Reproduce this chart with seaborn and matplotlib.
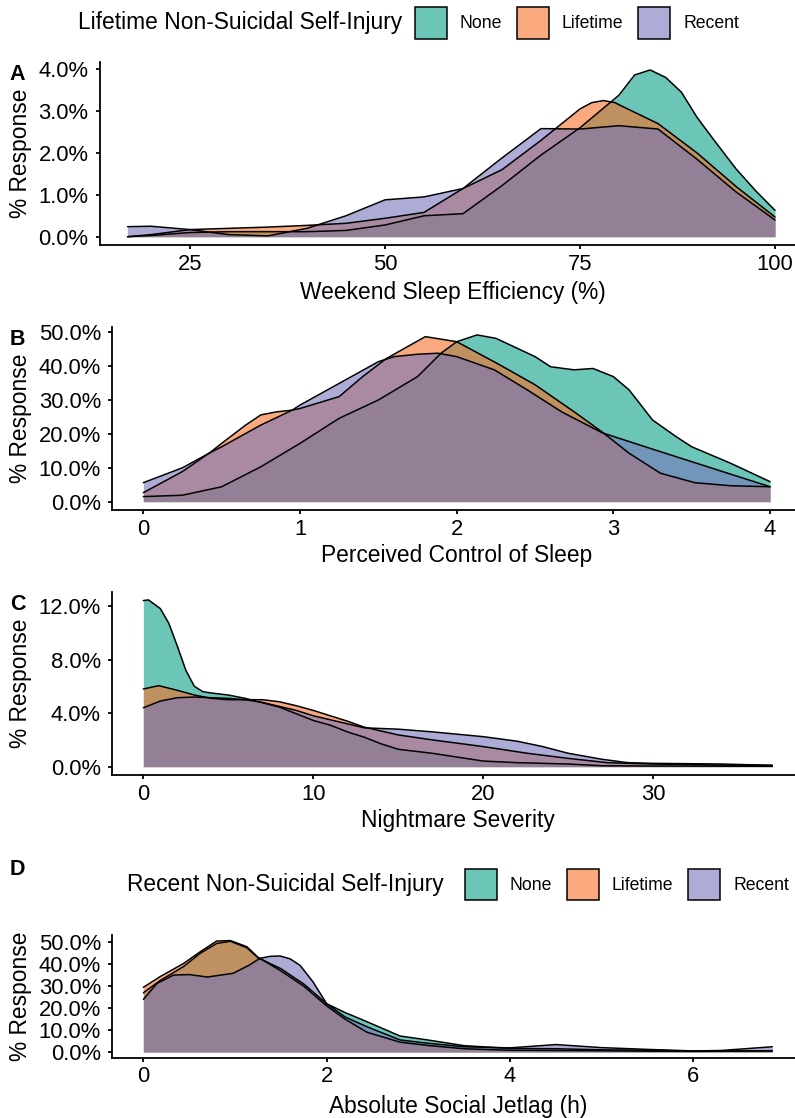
import seaborn as sns
import matplotlib.pyplot as plt
from matplotlib.colors import to_rgb
from matplotlib.patches import Patch
from matplotlib.ticker import PercentFormatter

# groups, drawn in this order (later fills cover earlier ones)
groups = ['None', 'Lifetime', 'Recent']

# ---- Panel A: Weekend Sleep Efficiency (%) ----
a_none_x = [17, 20, 25, 30, 35, 40, 45, 50, 55, 60, 65, 70, 75, 80, 82, 84, 86, 88, 90, 92, 95, 97.5, 100]
a_none = [0.0, 0.03, 0.1, 0.12, 0.12, 0.12, 0.15, 0.28, 0.5, 0.55, 1.22, 1.95, 2.6, 3.38, 3.86, 3.98, 3.8, 3.45, 2.85, 2.35, 1.62, 1.1, 0.63]
a_life_x = [17, 20, 25, 30, 35, 40, 45, 50, 55, 60, 65, 70, 72, 75, 76.5, 78, 79.5, 80, 85, 90, 95, 100]
a_life = [0.0, 0.05, 0.17, 0.2, 0.23, 0.27, 0.32, 0.44, 0.58, 1.15, 1.6, 2.3, 2.6, 3.05, 3.2, 3.25, 3.2, 3.15, 2.7, 2.0, 1.2, 0.47]
a_rec_x = [17, 20, 25, 30, 35, 40, 45, 50, 55, 60, 65, 70, 75, 80, 85, 90, 95, 100]
a_rec = [0.24, 0.25, 0.17, 0.05, 0.02, 0.2, 0.5, 0.88, 0.95, 1.15, 1.88, 2.58, 2.57, 2.65, 2.57, 1.85, 1.07, 0.4]

# ---- Panel B: Perceived Control of Sleep ----
b_none_x = [0, 0.25, 0.5, 0.75, 1.0, 1.25, 1.5, 1.75, 1.9, 2.0, 2.13, 2.25, 2.5, 2.6, 2.75, 2.87, 3.0, 3.1, 3.25, 3.4, 3.5, 3.75, 4.0]
b_none = [1.5, 1.9, 4.4, 10.3, 17.2, 24.6, 30.0, 36.9, 43.8, 47.2, 49.2, 48.2, 42.8, 39.8, 38.9, 39.3, 36.9, 33.0, 24.1, 19.2, 16.2, 11.3, 5.9]
b_life_x = [0, 0.25, 0.42, 0.5, 0.65, 0.75, 0.85, 0.95, 1.0, 1.25, 1.4, 1.55, 1.8, 2.0, 2.25, 2.5, 2.75, 2.93, 3.1, 3.3, 3.52, 3.75, 4.0]
b_life = [2.65, 8.9, 14.3, 17.2, 22.5, 25.6, 26.5, 27.0, 27.5, 31.0, 36.9, 42.2, 48.7, 47.2, 41.0, 34.5, 26.5, 20.5, 14.3, 8.4, 5.6, 4.7, 4.4]
b_rec_x = [0, 0.25, 0.42, 0.5, 0.75, 0.95, 1.0, 1.25, 1.5, 1.6, 1.75, 1.88, 2.0, 2.24, 2.45, 2.67, 2.93, 3.25, 3.5, 3.75, 4.0]
b_rec = [5.6, 10.0, 14.3, 16.2, 22.6, 27.0, 28.5, 34.9, 41.3, 42.8, 43.5, 43.8, 42.8, 38.9, 33.0, 26.5, 20.3, 15.5, 11.8, 8.1, 4.4]

# ---- Panel C: Nightmare Severity ----
c_none_x = [0, 0.3, 1, 1.5, 2, 2.5, 3, 3.5, 4, 5, 6, 8, 10, 11, 12, 13, 14, 15, 17, 20, 22, 25, 27, 30, 37]
c_none = [12.4, 12.45, 11.8, 10.7, 9.0, 7.2, 6.0, 5.6, 5.5, 5.35, 5.1, 4.45, 3.45, 3.1, 2.6, 2.2, 1.7, 1.3, 1.0, 0.42, 0.3, 0.2, 0.07, 0.05, 0.03]
c_life_x = [0, 0.9, 2, 3, 4, 5, 6, 7, 8, 9, 10, 11, 12, 13, 15, 17, 20, 22.6, 25, 27.3, 30, 34, 37]
c_life = [5.8, 6.05, 5.7, 5.35, 5.1, 5.0, 5.0, 5.0, 4.85, 4.55, 4.2, 3.8, 3.4, 2.95, 2.37, 2.0, 1.5, 1.0, 0.62, 0.3, 0.2, 0.12, 0.1]
c_rec_x = [0, 1, 2, 3, 4, 5, 6, 7, 8, 9, 10, 11, 12, 13, 14, 15, 17, 20, 22, 23.5, 25, 27, 28.5, 30, 34, 37]
c_rec = [4.4, 4.9, 5.15, 5.2, 5.15, 5.1, 5.0, 4.8, 4.5, 4.2, 3.8, 3.5, 3.2, 2.9, 2.85, 2.8, 2.6, 2.24, 1.9, 1.5, 1.0, 0.55, 0.3, 0.25, 0.2, 0.1]

# ---- Panel D: Absolute Social Jetlag (h) ----
d_none_x = [0, 0.18, 0.44, 0.62, 0.8, 0.95, 1.13, 1.25, 1.5, 1.75, 2.0, 2.2, 2.44, 2.8, 3.1, 3.5, 4.0, 4.5, 5.0, 5.5, 6.0, 6.86]
d_none = [27.0, 32.5, 39.0, 45.0, 49.5, 50.5, 47.5, 43.0, 38.0, 31.0, 22.0, 18.0, 13.8, 7.3, 5.5, 2.9, 1.6, 1.5, 1.0, 0.8, 0.4, 0.6]
d_life_x = [0, 0.18, 0.44, 0.62, 0.8, 0.95, 1.13, 1.25, 1.5, 1.75, 2.0, 2.2, 2.44, 2.8, 3.1, 3.5, 4.0, 4.5, 5.0, 5.5, 6.0, 6.86]
d_life = [29.5, 34.3, 40.4, 45.7, 50.6, 50.8, 48.0, 43.2, 37.0, 30.0, 21.0, 15.0, 9.0, 4.5, 3.0, 1.5, 0.8, 0.7, 0.6, 0.4, 0.3, 0.5]
d_rec_x = [0, 0.15, 0.33, 0.5, 0.7, 0.98, 1.15, 1.27, 1.38, 1.49, 1.6, 1.71, 1.85, 2.0, 2.2, 2.44, 2.8, 3.1, 3.5, 4.0, 4.5, 5.0, 5.5, 6.0, 6.3, 6.86]
d_rec = [24.0, 31.3, 35.1, 35.3, 34.2, 35.9, 39.5, 42.7, 43.6, 43.8, 42.5, 39.5, 32.0, 22.0, 16.0, 11.5, 5.5, 4.0, 2.4, 1.9, 3.4, 2.0, 1.2, 0.5, 0.7, 2.4]

sns.set_theme(style='ticks')
plt.rcParams['font.family'] = ['Liberation Sans', 'DejaVu Sans']
plt.rcParams['axes.linewidth'] = 1.3
plt.rcParams['axes.edgecolor'] = 'black'
plt.rcParams['text.color'] = 'black'
plt.rcParams['axes.labelcolor'] = 'black'

fill_colors = ['#0AA087', '#F76E26', '#7676BB']
ALPHA = 0.6

W, H = 795, 1118
fig = plt.figure(figsize=(W / 100, H / 100), dpi=100)


def add_axes_px(left, top, right, bottom):
    return fig.add_axes([left / W, 1 - bottom / H, (right - left) / W, (bottom - top) / H])


def draw_panel(ax, curves, xlim, ylim, xticks, yticks, xlabel, letter, letter_px, xlabel_py, decimals=1):
    for (xs, ys), color in zip(curves, fill_colors):
        ax.fill_between(xs, ys, 0, facecolor=color, alpha=ALPHA, lw=0)
        sns.lineplot(x=xs, y=ys, color='black', lw=1.1, ax=ax,
                     estimator=None, sort=False, legend=False)
    ax.set_xlim(*xlim)
    ax.set_ylim(*ylim)
    ax.set_xticks(xticks)
    ax.set_yticks(yticks)
    ax.yaxis.set_major_formatter(PercentFormatter(xmax=100, decimals=decimals))
    ax.tick_params(axis='both', labelsize=15.8, colors='black', width=1.3, length=2.9)
    ax.tick_params(axis='x', pad=3.5)
    ax.tick_params(axis='y', pad=5)
    sns.despine(ax=ax)
    ax.set_xlabel(xlabel, fontsize=16.4, color='black')
    ax.set_ylabel('% Response', fontsize=16.4, color='black')
    ax.xaxis.label.set_va('center')
    ax.yaxis.label.set_va('center')
    box = ax.get_position()
    ax.xaxis.set_label_coords((box.x0 + box.x1) / 2, 1 - xlabel_py / H, transform=fig.transFigure)
    ax.yaxis.set_label_coords(20.5 / W, (box.y0 + box.y1) / 2, transform=fig.transFigure)
    fig.text(letter_px[0] / W, 1 - letter_px[1] / H, letter, fontsize=15.5,
             fontweight='bold', ha='center', va='baseline', color='black')


ax_a = add_axes_px(99.5, 61.6, 807, 245.1)
draw_panel(ax_a, [(a_none_x, a_none), (a_life_x, a_life), (a_rec_x, a_rec)],
           (13.4, 104.1), (-0.2, 4.18), [25, 50, 75, 100], [0, 1, 2, 3, 4],
           'Weekend Sleep Efficiency (%)', 'A', (17, 80), 293)

ax_b = add_axes_px(112, 326.8, 801.4, 509.8)
draw_panel(ax_b, [(b_none_x, b_none), (b_life_x, b_life), (b_rec_x, b_rec)],
           (-0.2, 4.2), (-2.4, 51.6), [0, 1, 2, 3, 4], [0, 10, 20, 30, 40, 50],
           'Perceived Control of Sleep', 'B', (17.5, 345), 556)

ax_c = add_axes_px(111.9, 591.6, 803.7, 775.0)
draw_panel(ax_c, [(c_none_x, c_none), (c_life_x, c_life), (c_rec_x, c_rec)],
           (-1.85, 38.85), (-0.62, 13.07), [0, 10, 20, 30], [0, 4, 8, 12],
           'Nightmare Severity', 'C', (17.5, 610), 821)

ax_d = add_axes_px(111.9, 934.9, 803.5, 1057.6)
draw_panel(ax_d, [(d_none_x, d_none), (d_life_x, d_life), (d_rec_x, d_rec)],
           (-0.343, 7.2), (-2.54, 53.4), [0, 2, 4, 6], [0, 10, 20, 30, 40, 50],
           'Absolute Social Jetlag (h)', 'D', (17.5, 875), 1106)

# legends (title left of the keys, ggplot style)
handles = [Patch(facecolor=(*to_rgb(c), ALPHA), edgecolor='black', lw=1.1) for c in fill_colors]
for title, tx, lx, ly in [('Lifetime Non-Suicidal Self-Injury', 78, 415, 23),
                          ('Recent Non-Suicidal Self-Injury', 126.7, 465, 884.5)]:
    fig.text(tx / W, 1 - ly / H, title, fontsize=16.4, ha='left', va='center')
    fig.legend(handles, groups, loc='center left', bbox_to_anchor=(lx / W, 1 - ly / H),
               ncol=3, frameon=False, borderpad=0, borderaxespad=0,
               handlelength=1.8, handleheight=2.33, handletextpad=0.74,
               columnspacing=0.85, fontsize=12.7, labelcolor='black')

plt.savefig('out.png', dpi=100)
